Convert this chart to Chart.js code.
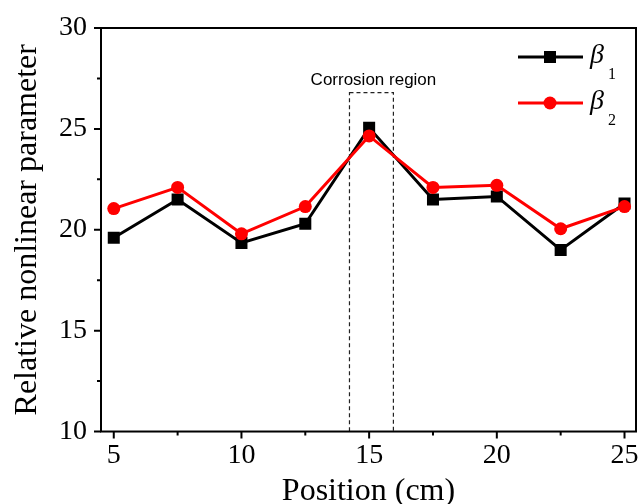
<!DOCTYPE html>
<html lang="en">
<head>
  <meta charset="UTF-8" />
  <title>Relative nonlinear parameter vs position</title>
  <script src="https://cdn.jsdelivr.net/npm/chart.js"></script>
  <style>
    html, body { margin: 0; padding: 0; background: #fff; }
    .wrap { width: 640px; height: 504px; position: relative; }
  </style>
</head>
<body>
  <div class="wrap">
    <canvas id="chart" width="640" height="504"></canvas>
  </div>

  <script>
    // data
    const positions = [5, 7.5, 10, 12.5, 15, 17.5, 20, 22.5, 25];
    const beta1 = [19.6, 21.5, 19.35, 20.3, 25.05, 21.5, 21.65, 19.0, 21.3];
    const beta2 = [21.05, 22.1, 19.8, 21.15, 24.65, 22.1, 22.2, 20.05, 21.15];
    const seriesNames = ['1', '2'];           // subscripts of beta
    const regionX = [14.23, 15.95];           // dashed "Corrosion region" box
    const regionTop = 26.8;
    const regionLabel = 'Corrosion region';

    const serif = '"Liberation Serif", "Times New Roman", serif';
    const sans = '"Liberation Sans", Arial, sans-serif';

    // box frame, outward major/minor ticks
    const frame = {
      id: 'frame',
      afterDraw(chart) {
        const { ctx, chartArea: a, scales: { x, y } } = chart;
        ctx.save();
        ctx.strokeStyle = '#000';
        ctx.lineWidth = 2;
        ctx.strokeRect(a.left, a.top, a.right - a.left, a.bottom - a.top);
        ctx.beginPath();
        x.ticks.forEach(t => {
          const px = x.getPixelForValue(t.value);
          const len = t.value % 5 === 0 ? 7 : 4;
          ctx.moveTo(px, a.bottom);
          ctx.lineTo(px, a.bottom + len);
        });
        y.ticks.forEach(t => {
          const py = y.getPixelForValue(t.value);
          const len = t.value % 5 === 0 ? 7 : 4;
          ctx.moveTo(a.left, py);
          ctx.lineTo(a.left - len, py);
        });
        ctx.stroke();
        ctx.restore();
      }
    };

    const region = {
      id: 'region',
      beforeDatasetsDraw(chart) {
        const { ctx, scales: { x, y } } = chart;
        const x0 = x.getPixelForValue(regionX[0]);
        const x1 = x.getPixelForValue(regionX[1]);
        const yt = y.getPixelForValue(regionTop);
        const yb = y.getPixelForValue(10);
        ctx.save();
        ctx.strokeStyle = '#222';
        ctx.lineWidth = 1.2;
        ctx.setLineDash([4, 3]);
        ctx.strokeRect(x0, yt, x1 - x0, yb - yt);
        ctx.setLineDash([]);
        ctx.fillStyle = '#000';
        ctx.font = '17px ' + sans;
        ctx.textAlign = 'center';
        ctx.textBaseline = 'alphabetic';
        ctx.fillText(regionLabel, (x0 + x1) / 2 + 2, yt - 8);
        ctx.restore();
      }
    };

    // legend with beta and subscript
    const betaLegend = {
      id: 'betaLegend',
      afterDraw(chart) {
        const { ctx } = chart;
        const items = chart.data.datasets;
        ctx.save();
        items.forEach((ds, i) => {
          const cy = 57 + i * 46;
          ctx.strokeStyle = ds.borderColor;
          ctx.lineWidth = 3;
          ctx.beginPath();
          ctx.moveTo(518, cy);
          ctx.lineTo(583, cy);
          ctx.stroke();
          ctx.fillStyle = ds.backgroundColor;
          if (ds.pointStyle === 'rect') {
            ctx.fillRect(550 - 6, cy - 6, 12, 12);
          } else {
            ctx.beginPath();
            ctx.arc(550, cy, 6.5, 0, Math.PI * 2);
            ctx.fill();
          }
          ctx.fillStyle = '#000';
          ctx.textBaseline = 'alphabetic';
          ctx.textAlign = 'left';
          ctx.font = 'italic 28px ' + serif;
          ctx.fillText('β', 590, cy + 6);
          ctx.font = '16px ' + serif;
          ctx.fillText(seriesNames[i], 608, cy + 22);
        });
        ctx.restore();
      }
    };

    const toPoints = vals => positions.map((p, i) => ({ x: p, y: vals[i] }));

    new Chart(document.getElementById('chart'), {
      type: 'line',
      data: {
        datasets: [
          {
            label: 'β1',
            data: toPoints(beta1),
            borderColor: '#000000',
            backgroundColor: '#000000',
            borderWidth: 3,
            pointStyle: 'rect',
            pointRadius: 8.5,
            pointBorderWidth: 0,
            order: 1
          },
          {
            label: 'β2',
            data: toPoints(beta2),
            borderColor: '#ff0000',
            backgroundColor: '#ff0000',
            borderWidth: 3,
            pointStyle: 'circle',
            pointRadius: 6.5,
            pointBorderWidth: 0,
            order: 0
          }
        ]
      },
      options: {
        responsive: false,
        animation: false,
        layout: { autoPadding: false, padding: { top: 28, right: 4, left: 12, bottom: 0 } },
        scales: {
          x: {
            type: 'linear',
            min: 4.5,
            max: 25.45,
            grid: { display: false, drawTicks: false },
            border: { display: false },
            afterBuildTicks: s => {
              s.ticks = positions.map(v => ({ value: v }));
            },
            // let the last label run into the right margin
            afterFit: s => { s.paddingRight = 0; },
            ticks: {
              autoSkip: false,
              maxRotation: 0,
              padding: 15,
              color: '#000',
              font: { family: serif, size: 28, lineHeight: 0.66 },
              callback: v => (v % 5 === 0 ? v : '')
            },
            title: {
              display: true,
              text: 'Position (cm)',
              color: '#000',
              font: { family: serif, size: 32, lineHeight: 0.75 },
              padding: { top: 0, bottom: 0 }
            }
          },
          y: {
            min: 10,
            max: 30,
            grid: { display: false, drawTicks: false },
            border: { display: false },
            // top margin comes from layout padding only
            afterFit: s => { s.paddingTop = 0; s.paddingBottom = 0; },
            ticks: {
              stepSize: 2.5,
              padding: 14,
              color: '#000',
              font: { family: serif, size: 28 },
              callback: v => (v % 5 === 0 ? v : '')
            },
            title: {
              display: true,
              text: 'Relative nonlinear parameter',
              color: '#000',
              font: { family: serif, size: 32, lineHeight: 1 },
              padding: { top: 0, bottom: 1 }
            }
          }
        },
        plugins: {
          legend: { display: false },
          tooltip: { enabled: false }
        }
      },
      plugins: [region, frame, betaLegend]
    });
  </script>
</body>
</html>
